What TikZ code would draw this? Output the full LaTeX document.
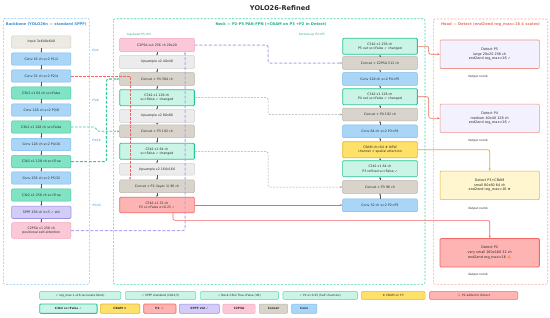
\documentclass[tikz,border=0pt]{standalone}
\usepackage{fontspec}
\setmainfont{DejaVu Sans}
\newfontfamily\emojifont{Noto Emoji}
\usetikzlibrary{arrows.meta}
\definecolor{convf}{HTML}{A9D5F7}\definecolor{convd}{HTML}{7DB9EC}
\definecolor{c3kf}{HTML}{7FE3C4}\definecolor{c3kd}{HTML}{3DC79C}
\definecolor{inpf}{HTML}{EDEAE4}\definecolor{inpd}{HTML}{D5CFC4}
\definecolor{sppff}{HTML}{D2CCF7}\definecolor{sppfd}{HTML}{9D8FE3}
\definecolor{psaf}{HTML}{FBC8D8}\definecolor{psad}{HTML}{F2A4BE}
\definecolor{upsf}{HTML}{ECECEC}\definecolor{upsd}{HTML}{CFCFCF}
\definecolor{catf}{HTML}{D8D4CB}\definecolor{catd}{HTML}{BAB5AA}
\definecolor{chgf}{HTML}{C9F4E6}\definecolor{chgd}{HTML}{26C494}
\definecolor{p2f}{HTML}{FFB4B4}\definecolor{p2d}{HTML}{F26666}
\definecolor{cbamf}{HTML}{FFE169}\definecolor{cbamd}{HTML}{E2B42A}
\definecolor{detf}{HTML}{F4F1FF}\definecolor{detd}{HTML}{EE958D}
\definecolor{det3f}{HTML}{FFF6CF}\definecolor{det3d}{HTML}{E2B648}
\definecolor{bbfr}{HTML}{86C4F2}\definecolor{nkfr}{HTML}{45D3AB}\definecolor{hdfr}{HTML}{F5A898}
\definecolor{bbt}{HTML}{3B8ED6}\definecolor{nkt}{HTML}{1FAE86}\definecolor{hdt}{HTML}{E57A66}
\definecolor{txt}{HTML}{2A2A2A}\definecolor{arr}{HTML}{555555}
\definecolor{lgd}{HTML}{55D0AA}\definecolor{fireorange}{HTML}{F08020}
\definecolor{purp}{HTML}{B3A4F2}\definecolor{grayl}{HTML}{A8A8A8}
\definecolor{redl}{HTML}{F26666}\definecolor{headl}{HTML}{E2705A}\definecolor{goldl}{HTML}{E2A832}
\definecolor{teall}{HTML}{35C89E}
\newcommand{\fire}{{\emojifont\textcolor{fireorange}{\char"1F525}}}
\begin{document}
\begin{tikzpicture}[x=1pt,y=-1pt,
 bx/.style={draw, rounded corners=1pt, line width=0.45pt, inner sep=0.5pt, align=center, font=\fontsize{3.2}{4.3}\selectfont, text=txt},
 bb/.style={bx, minimum width=59.3pt, minimum height=12.3pt},
 nk/.style={bx, minimum width=74.7pt, minimum height=12.7pt},
 nktwo/.style={nk, minimum height=16pt},
 conv/.style={fill=convf, draw=convd},
 c3k/.style={fill=c3kf, draw=c3kd},
 inp/.style={fill=inpf, draw=inpd},
 sppf/.style={fill=sppff, draw=sppfd},
 psa/.style={fill=psaf, draw=psad},
 ups/.style={fill=upsf, draw=upsd},
 cat/.style={fill=catf, draw=catd},
 chg/.style={fill=chgf, draw=chgd, line width=0.8pt},
 ptwo/.style={fill=p2f, draw=p2d, line width=0.7pt},
 cbam/.style={fill=cbamf, draw=cbamd, line width=0.7pt},
 det/.style={bx, minimum width=99.3pt, minimum height=28.5pt, font=\fontsize{3.4}{4.7}\selectfont, line width=0.6pt},
 flow/.style={-{Stealth[length=1.8pt,width=1.6pt]}, line width=0.35pt, draw=arr},
 frame/.style={rounded corners=2pt, dashed, dash pattern=on 2pt off 1.5pt, line width=0.6pt},
 ftitle/.style={font=\bfseries\fontsize{3.7}{4.5}\selectfont, inner sep=0pt},
 small/.style={font=\fontsize{2.9}{3.5}\selectfont, inner sep=0pt},
 tip/.style={-{Stealth[length=2.4pt,width=2pt]}},
 lg/.style={bx, anchor=west, minimum height=7.6pt, font=\fontsize{2.9}{3.5}\selectfont, fill=chgf, draw=lgd},
 lgb/.style={bx, anchor=west, minimum height=9.3pt, font=\bfseries\fontsize{2.9}{3.5}\selectfont},
]
\useasboundingbox (0,0) rectangle (550,317);
\fill[white] (0,0) rectangle (550,317);
% title
\node[font=\bfseries\fontsize{6.6}{8}\selectfont, text=txt] (title) at (280,8.5) {YOLO26-Refined};
% frames
\draw[frame, draw=bbfr] (3.3,18.3) rectangle (89.3,284.3);
\draw[frame, draw=nkfr] (113.3,18.7) rectangle (425,284.3);
\draw[frame, draw=hdfr] (433.3,19) rectangle (547.7,284.3);
\node[ftitle, text=bbt] (tbb) at (46.3,24.3) {Backbone (YOLO26n — standard SPPF)};
\node[ftitle, text=nkt] (tnk) at (271,24.3) {Neck — P2-P5 PAN-FPN (+CBAM on P3 +P2 in Detect)};
\node[ftitle, text=hdt] (thd) at (490.5,24.3) {Head — Detect (end2end reg\_max=16 4 scales)};
\node[small, text=nkt] (ltd) at (139,34.8) {top-down P5→P2};
\node[small, text=nkt] (lbu) at (312,34.8) {bottom-up P2→P5};
% P labels
\node[small, text=bbt] (pl2) at (95.5,50.7) {P2/4};
\node[small, text=bbt] (pl3) at (95.5,101) {P3/8};
\node[small, text=bbt] (pl4) at (96.5,141) {P4/16};
\node[small, text=bbt] (pl5) at (96.8,205.5) {P5/32};
% backbone
\node[bb, inp]  (b0) at (41.3,42) {Input 3x640x640};
\node[bb, conv] (b1) at (41.3,59) {Conv 16 ch s=2 P1/2};
\node[bb, conv] (b2) at (41.3,76) {Conv 32 ch s=2 P2/4};
\node[bb, c3k]  (b3) at (41.3,93) {C3k2 x1 64 ch sc=False};
\node[bb, conv] (b4) at (41.3,110) {Conv 128 ch s=2 P3/8};
\node[bb, c3k]  (b5) at (41.3,127) {C3k2 x1 128 ch sc=False};
\node[bb, conv] (b6) at (41.3,144.5) {Conv 128 ch s=2 P4/16};
\node[bb, c3k]  (b7) at (41.3,161.7) {C3k2 x1 128 ch sc=True};
\node[bb, conv] (b8) at (41.3,178) {Conv 256 ch s=2 P5/32};
\node[bb, c3k]  (b9) at (41.3,195) {C3k2 x1 256 ch sc=True};
\node[bb, sppf, line width=0.6pt] (b10) at (41.3,212.3) {SPPF 256 ch k=5 ✓ std};
\node[bb, psa, minimum height=15.6pt] (b11) at (41.3,230.5) {C2PSA x1 256 ch\\positional self-attention};
\foreach \a/\b in {b0/b1,b1/b2,b2/b3,b3/b4,b4/b5,b5/b6,b6/b7,b7/b8,b8/b9,b9/b10,b10/b11}
  \draw[flow] (\a) -- (\b);
% neck left
\node[nk, psa, minimum height=13.3pt] (l0) at (157,45) {C2PSA out 256 ch 20x20};
\node[nk, ups] (l1) at (157,62) {Upsample x2 40x40};
\node[nk, cat] (l2) at (157,79) {Concat + P4 384 ch};
\node[nktwo, chg] (l3) at (157,97.7) {C3k2 x1 128 ch\\sc=False ✓ changed};
\node[nk, ups] (l4) at (157,116) {Upsample x2 80x80};
\node[nk, cat] (l5) at (157,131.3) {Concat + P3 192 ch};
\node[nktwo, chg] (l6) at (157,151.3) {C3k2 x1 64 ch\\sc=False ✓ changed};
\node[nk, ups, minimum height=11.7pt] (l7) at (157,169.2) {Upsample x2 160x160};
\node[nk, cat] (l8) at (157,186.3) {Concat + P2 (layer 1) 96 ch};
\node[nk, ptwo, minimum height=15.4pt] (l9) at (157,205) {C3k2 x1 32 ch\\P2 sc=False e=0.25 ✓};
\foreach \a/\b in {l0/l1,l1/l2,l2/l3,l3/l4,l4/l5,l5/l6,l6/l7,l7/l8,l8/l9}
  \draw[flow] (\a) -- (\b);
% neck right
\node[nktwo, chg] (r0) at (380,46.3) {C3k2 x1 256 ch\\P5 out sc=False ✓ changed};
\node[nk, cat] (r1) at (380,63) {Concat + C2PSA 512 ch};
\node[nk, conv] (r2) at (380,79) {Conv 128 ch s=2 P4→P5};
\node[nktwo, chg] (r3) at (380,96.7) {C3k2 x1 128 ch\\P4 out sc=False ✓ changed};
\node[nk, cat] (r4) at (380,114.5) {Concat + P4 192 ch};
\node[nk, conv] (r5) at (380,131.3) {Conv 64 ch s=2 P3→P4};
\node[nktwo, cbam] (r6) at (380,149.7) {CBAM ch=64 ★ NEW\\channel + spatial attention};
\node[nktwo, chg, line width=0.6pt] (r7) at (380,168.7) {C3k2 x1 64 ch\\P3 refined sc=False ✓};
\node[nk, cat] (r8) at (380,187) {Concat + P3 96 ch};
\node[nk, conv] (r9) at (380,205.3) {Conv 32 ch s=2 P2→P3};
\foreach \a/\b in {r1/r0,r2/r1,r3/r2,r4/r3,r5/r4,r6/r5,r7/r6,r8/r7,r9/r8}
  \draw[flow] (\a) -- (\b);
% head
\node[det, fill=detf, draw=detd] (h5) at (489.7,54.2) {Detect P5\\large 20x20 256 ch\\end2end reg\_max=16 ✓};
\node[det, fill=detf, draw=detd] (h4) at (489.7,118.3) {Detect P4\\medium 40x40 128 ch\\end2end reg\_max=16 ✓};
\node[det, fill=det3f, draw=det3d] (h3) at (489.7,185.3) {Detect P3+CBAM\\small 80x80 64 ch\\end2end reg\_max=16 ★};
\node[det, fill=p2f, draw=p2d, line width=0.8pt] (h2) at (489.7,252.8) {Detect P2\\very small 160x160 32 ch\\end2end reg\_max=16 \fire};
\node[small, text=txt] (o5) at (478,76.8) {Output num4};
\node[small, text=txt] (o4) at (478,140.8) {Output num4};
\node[small, text=txt] (o3) at (478,208.4) {Output num4};
\node[small, text=txt] (o2) at (478,275.2) {Output num4};
% skip connectors
\draw[redl, dashed, dash pattern=on 2.5pt off 1.5pt, line width=0.75pt, tip] (b2.east) -| ([xshift=-27pt]l8.north);
\draw[teall, dashed, dash pattern=on 2.5pt off 1.5pt, line width=0.75pt, rounded corners=1.5pt, tip] (b5.east) -- (95,127) -- (97.5,131.3) -- (l5.west);
\draw[teall, dashed, dash pattern=on 2.8pt off 1.6pt, line width=1.05pt, rounded corners=2pt, tip] (b7.east) -- (106.5,161.7) |- (l2.west);
\draw[purp, dashed, dash pattern=on 3pt off 1.8pt, line width=1pt, rounded corners=2pt, tip] (b11.east) -| ([xshift=28pt]l0.south);
\draw[purp, dashed, dash pattern=on 3pt off 1.8pt, line width=1pt, rounded corners=2pt, tip] (l0.east) -- (268,45) |- (r1.west);
\draw[grayl, dashed, dash pattern=on 2pt off 1.3pt, line width=0.5pt, rounded corners=1.5pt, tip] (l3.east) -- (268,97.7) |- (r4.west);
\draw[grayl, dashed, dash pattern=on 2pt off 1.3pt, line width=0.5pt, rounded corners=1.5pt, tip] (l6.east) -- (268,151.3) |- (r8.west);
\draw[redl, line width=0.6pt, tip] (l9.east) -- (l9.east -| r9.west);
\draw[redl, line width=0.6pt, rounded corners=2pt, tip] ([xshift=16pt]l9.south) -- ++(0,7.3) -| (h2.north);
\draw[headl, line width=0.6pt, rounded corners=2pt, tip] (r0.east) -- ++(11,0) |- (h5.west);
\draw[headl, line width=0.6pt, rounded corners=2pt, tip] (r3.east) -- ++(11,0) |- (h4.west);
\draw[goldl, line width=0.7pt, rounded corners=2pt, tip] (r6.east) -| (h3.north);
% legend row 1
\node[lg, minimum width=81.4pt] (g1) at (39.3,295.5) {✓ reg\_max 1→16 (accurate bbox)};
\node[lg, minimum width=70.7pt] (g2) at (125,295.5) {✓ SPPF standard (1024,5)};
\node[lg, minimum width=78.3pt] (g3) at (200,295.5) {✓ Neck C3k2 True→False (V8)};
\node[lg, minimum width=74.6pt] (g4) at (282.7,295.5) {✓ P2 e=0.25 (half channels)};
\node[lg, minimum width=64pt, fill=cbamf, draw=cbamd] (g5) at (361,295.5) {★ CBAM on P3};
\node[lg, minimum width=88.4pt, fill=p2f, draw=p2d] (g6) at (429.3,295.5) {\fire\ P2 added to Detect};
% legend row 2
\node[lgb, minimum width=57.4pt, fill=chgf, draw=chgd, line width=0.8pt] (m1) at (39.3,308.7) {C3k2 sc=False ✓};
\node[lgb, minimum width=39.3pt, fill=cbamf, draw=cbamd, line width=0.7pt] (m2) at (100,308.7) {CBAM ★};
\node[lgb, minimum width=32.4pt, fill=p2f, draw=p2d, line width=0.7pt] (m3) at (143.3,308.7) {P2 \fire};
\node[lgb, minimum width=39.7pt, fill=sppff, draw=sppfd, line width=0.6pt] (m4) at (179.3,308.7) {SPPF std ✓};
\node[lgb, minimum width=32.3pt, fill=psaf, draw=psad] (m5) at (222.7,308.7) {C2PSA};
\node[lgb, minimum width=28.3pt, fill=catf, draw=catd] (m6) at (259,308.7) {Concat};
\node[lgb, minimum width=25.4pt, fill=convf, draw=convd] (m7) at (291.3,308.7) {Conv};
\end{tikzpicture}
\end{document}
